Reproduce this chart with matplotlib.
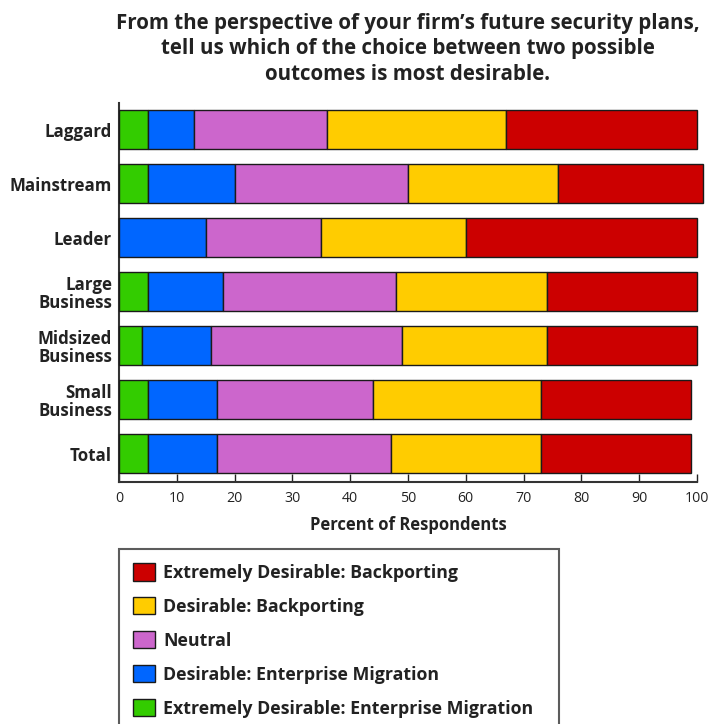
import matplotlib
matplotlib.use("Agg")
import matplotlib.pyplot as plt
from matplotlib.patches import Patch
import numpy as np

plt.rcParams['font.family'] = ['Open Sans', 'DejaVu Sans']

categories = ["Laggard", "Mainstream", "Leader", "Large\nBusiness",
              "Midsized\nBusiness", "Small\nBusiness", "Total"]
ext_migration = [5, 5, 0, 5, 4, 5, 5]
des_migration = [8, 15, 15, 13, 12, 12, 12]
neutral = [23, 30, 20, 30, 33, 27, 30]
des_backport = [31, 26, 25, 26, 25, 29, 26]
ext_backport = [33, 25, 40, 26, 26, 26, 26]

series = [
    ("Extremely Desirable: Enterprise Migration", ext_migration, "#33CC00"),
    ("Desirable: Enterprise Migration", des_migration, "#0066FF"),
    ("Neutral", neutral, "#CC66CC"),
    ("Desirable: Backporting", des_backport, "#FFCC00"),
    ("Extremely Desirable: Backporting", ext_backport, "#CC0000"),
]

title = ("From the perspective of your firm\u2019s future security plans,\n"
         "tell us which of the choice between two possible\n"
         "outcomes is most desirable.")

W, H = 712, 724
fig = plt.figure(figsize=(W / 100, H / 100), dpi=100)
ax = fig.add_axes([119 / W, (H - 481.7) / H, (697 - 119) / W, (481.7 - 103) / H])

n = len(categories)
ypos = np.arange(n)[::-1]
left = np.zeros(n)
for name, vals, col in series:
    vals = np.array(vals, dtype=float)
    ax.barh(ypos, vals, left=left, height=0.722, color=col,
            edgecolor="#1a1a1a", linewidth=1.0, clip_on=False, zorder=3)
    left += vals

ax.set_xlim(0, 100)
ax.set_ylim(-0.522, n - 1 + 0.491)
ax.set_xticks(np.arange(0, 101, 10))
ax.tick_params(axis='x', direction='in', length=6, width=1.0, color="#222222",
               labelsize=10.2, labelcolor="#222222", pad=7)
ax.set_yticks(ypos)
ax.set_yticklabels(categories, fontsize=12.2, fontweight='bold', color="#222222",
                   linespacing=1.05)
ax.tick_params(axis='y', length=0, pad=5)
for s in ['top', 'right']:
    ax.spines[s].set_visible(False)
for s in ['left', 'bottom']:
    ax.spines[s].set_linewidth(1.5)
    ax.spines[s].set_color("#333333")

ax.set_xlabel("Percent of Respondents", fontsize=12, fontweight='bold',
              color="#222222", labelpad=7)

fig.text(408 / W, 1 - 13 / H, title, ha='center', va='top', fontsize=14.8,
         fontweight='bold', color="#222222", linespacing=1.27)

handles = [Patch(facecolor=col, edgecolor="#1a1a1a", linewidth=1.0, label=name)
           for name, vals, col in series[::-1]]
leg = fig.legend(handles=handles, loc='upper left',
                 bbox_to_anchor=(119 / W, 1 - 549 / H - 0.3, (559 - 119) / W, 0.3),
                 mode='expand', borderaxespad=0,
                 prop={'weight': 'bold', 'size': 12.8},
                 handlelength=1.24, handleheight=1.12, handletextpad=0.45,
                 labelspacing=0.86, borderpad=0.8, fancybox=False, frameon=True)
leg.get_frame().set_edgecolor("#333333")
leg.get_frame().set_linewidth(1.5)
for t in leg.get_texts():
    t.set_color("#222222")

fig.savefig("out.png", dpi=100)
